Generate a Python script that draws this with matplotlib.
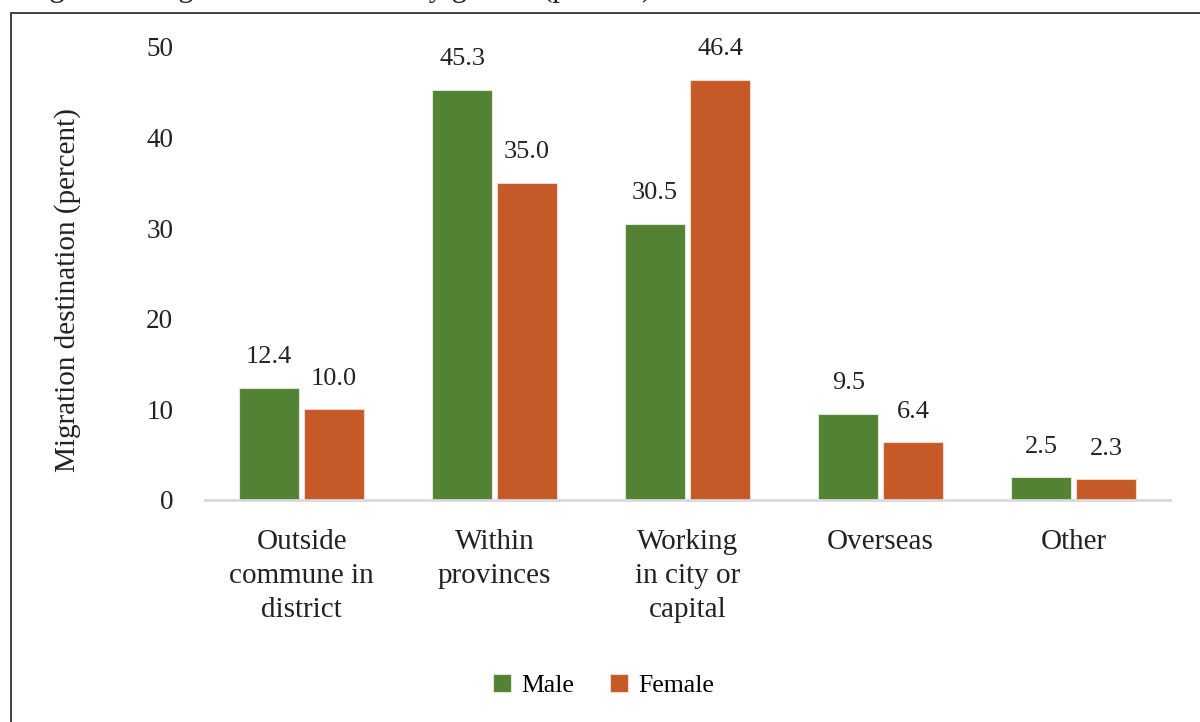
import numpy as np
import matplotlib
matplotlib.use("Agg")
import matplotlib.pyplot as plt
from matplotlib.patches import Rectangle

categories = ["Outside\ncommune in\ndistrict", "Within\nprovinces", "Working\nin city or\ncapital",
              "Overseas", "Other"]
male = [12.4, 45.3, 30.5, 9.5, 2.5]
female = [10.0, 35.0, 46.4, 6.4, 2.3]
yticks = [0, 10, 20, 30, 40, 50]

GREEN, ORANGE = "#548235", "#C55A28"
plt.rcParams["font.family"] = ["Liberation Serif", "DejaVu Serif"]

fig = plt.figure(figsize=(12, 7.22), dpi=100)
ax = fig.add_axes([0.171, 0.3075, 0.804, 0.6275])

x = np.arange(len(categories))
w = 0.31
gap = 0.013
b1 = ax.bar(x - w / 2 - gap, male, w, color=GREEN, edgecolor="#dfe8d8", lw=0.8, label="Male")
b2 = ax.bar(x + w / 2 + gap, female, w, color=ORANGE, edgecolor="#f2d8cc", lw=0.8, label="Female")
for bars, vals in [(b1, male), (b2, female)]:
    for r, v in zip(bars, vals):
        ax.annotate(f"{v:.1f}", (r.get_x() + r.get_width() / 2, v), xytext=(0, 14),
                    textcoords="offset points", ha="center", va="bottom", fontsize=19, color="#222222")

ax.set_xlim(-0.5, len(categories) - 0.5)
ax.set_ylim(0, 50)
ax.set_yticks(yticks)
ax.tick_params(axis="y", length=0, pad=23, labelsize=19.5, labelcolor="#222222")
ax.tick_params(axis="x", length=0, pad=21, labelsize=21, labelcolor="#222222")
ax.set_xticks(x)
ax.set_xticklabels(categories, linespacing=1.4)
for s in ("top", "right", "left"):
    ax.spines[s].set_visible(False)
ax.spines["bottom"].set_color("#d9d9d9")
ax.spines["bottom"].set_linewidth(2)
ax.set_ylabel("Migration destination (percent)", fontsize=21, color="#222222")
ax.yaxis.set_label_coords(-0.1285, 0.464)

ax.legend(loc="center", bbox_to_anchor=(0.503, 0.051), bbox_transform=fig.transFigure, ncol=2,
          frameon=False, fontsize=18.5, handlelength=0.7, handleheight=0.7, columnspacing=1.4,
          handletextpad=0.4)

# outer frame and caption, cut off at the top edge as in the source.
# Only the descenders of the caption are visible there, so its wording is a best guess
# (figure number especially) reconstructed from the y-label and the letter positions.
fig.patches.append(Rectangle((0.009, -0.01), 1.2, 0.992, transform=fig.transFigure,
                             fill=False, ec="#222222", lw=1.2))
fig.text(0.02, 1.005, "Figure 3: Migration destination by gender (percent)", fontsize=22,
         ha="left", va="baseline", color="#222222")

fig.savefig("out.png", dpi=100)
